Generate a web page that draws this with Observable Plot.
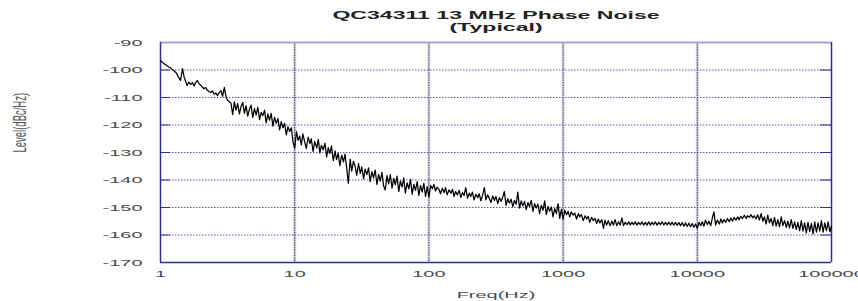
<!DOCTYPE html>
<html>
<head>
<meta charset="utf-8">
<script src="https://cdn.jsdelivr.net/npm/d3@7"></script>
<script src="https://cdn.jsdelivr.net/npm/@observablehq/plot@0.6"></script>
<style>
  html, body { margin: 0; padding: 0; background: #ffffff; }
  #chart { width: 858px; height: 301px; overflow: hidden; }
</style>
</head>
<body>
<div id="chart"></div>
<script>
// ---- Data (frequency Hz, level dBc/Hz) ----
const decade1 = [
  [1,-96.5],[1.03,-97.2],[1.06,-97.6],[1.09,-98.1],[1.12,-98.4],[1.15,-98.9],[1.19,-99.2],[1.22,-99.8],
  [1.26,-100.3],[1.3,-100.9],[1.33,-101.6],[1.37,-102.8],[1.41,-103.8],[1.46,-99.5],[1.5,-102.6],[1.54,-104.2],
  [1.58,-105.6],[1.63,-104.4],[1.68,-105.2],[1.73,-104.6],[1.78,-105.8],[1.83,-104.5],[1.88,-103.8],[1.94,-105],
  [2,-105.6],[2.05,-106.2],[2.11,-106.8],[2.17,-106.4],[2.24,-107.4],[2.31,-107.9],[2.37,-108.2],[2.44,-107.6],
  [2.51,-108.8],[2.59,-108.4],[2.66,-109.3],[2.74,-108.2],[2.82,-107.5],[2.9,-109.6],[2.99,-106.3],[3.08,-109.8],
  [3.16,-111],[3.26,-111.6],[3.35,-112],[3.45,-116.2],[3.55,-111.6],[3.65,-114.6],[3.76,-112.2],[3.87,-116],
  [3.98,-113.4],[4.1,-111.8],[4.22,-115.8],[4.34,-113],[4.47,-116.8],[4.6,-114.2],[4.73,-112.8],[4.87,-117.2],
  [5.01,-114],[5.16,-116.4],[5.31,-113.6],[5.47,-118],[5.62,-115.4],[5.79,-116.6],[5.96,-114.6],[6.13,-119.2],
  [6.31,-116],[6.49,-118.2],[6.68,-115.8],[6.88,-120.4],[7.08,-117.2],[7.29,-119.4],[7.5,-117.6],[7.72,-121.8],
  [7.94,-118.8],[8.18,-121],[8.41,-119.4],[8.66,-123.6],[8.91,-120.6],[9.17,-122.4],[9.44,-121],[9.72,-126.2]
];
const decade2 = [
  [10,-128.4],[10.3,-122.4],[10.6,-125.6],[10.9,-124],[11.2,-127.2],[11.5,-123.2],[11.9,-126.4],[12.2,-128.6],
  [12.6,-124.4],[13,-126.8],[13.3,-125],[13.7,-129.6],[14.1,-126],[14.6,-128.4],[15,-125.2],[15.4,-130.2],
  [15.8,-127.4],[16.3,-129],[16.8,-126.6],[17.3,-131.6],[17.8,-128.2],[18.3,-130.4],[18.8,-127.6],[19.4,-133],
  [20,-129.4],[20.5,-132.6],[21.1,-130.2],[21.7,-134.8],[22.4,-131],[23.1,-133.4],[23.7,-130.6],[24.4,-135.6],
  [25.1,-141.2],[25.9,-132.4],[26.6,-136.8],[27.4,-133.2],[28.2,-135],[29,-138.2],[29.9,-134],[30.8,-137.6],
  [31.6,-135.2],[32.6,-139.6],[33.5,-136],[34.5,-138],[35.5,-135.6],[36.5,-140.6],[37.6,-137],[38.7,-139.2],
  [39.8,-136.4],[41,-141.6],[42.2,-138],[43.4,-140.4],[44.7,-137.2],[46,-142.2],[47.3,-143.6],[48.7,-138.4],
  [50.1,-141.4],[51.6,-138],[53.1,-143],[54.7,-139.4],[56.2,-141.8],[57.9,-138.6],[59.6,-144.2],[61.3,-140.4],
  [63.1,-142.6],[64.9,-139.2],[66.8,-144.8],[68.8,-141],[70.8,-143.2],[72.9,-139.8],[75,-145.2],[77.2,-141.6],
  [79.4,-143.8],[81.8,-140.6],[84.1,-145.6],[86.6,-142],[89.1,-144.4],[91.7,-141.2],[94.4,-146],[97.2,-142.4]
];
const decade3 = [
  [100,-146.2],[103,-142],[106,-143.2],[109,-141.6],[112,-144],[115,-142.6],[119,-143.4],[122,-145],
  [126,-143],[130,-144.6],[133,-142.8],[137,-145.4],[141,-143.6],[146,-144.8],[150,-143.4],[154,-146],
  [158,-144.2],[163,-145.4],[168,-143.8],[173,-146.4],[178,-144.6],[183,-145.6],[188,-142.8],[194,-146.6],
  [200,-144.8],[205,-146],[211,-144.4],[217,-147.2],[224,-145.2],[231,-146.4],[237,-145],[244,-147.6],
  [251,-145.6],[259,-142.8],[266,-147.2],[274,-145.4],[282,-146.6],[290,-148.2],[299,-145.8],[308,-147.4],
  [316,-146],[326,-148.6],[335,-146.4],[345,-147.8],[355,-146.2],[365,-144.2],[376,-149.2],[387,-146.8],
  [398,-148.4],[410,-147],[422,-149.8],[434,-147.4],[447,-148.8],[460,-144.4],[473,-150.2],[487,-147.6],
  [501,-149.4],[516,-147.8],[531,-150.8],[547,-148.2],[562,-149.6],[579,-147.4],[596,-151.4],[613,-148.6],
  [631,-150.2],[649,-148.8],[668,-152.2],[688,-149.2],[708,-151],[729,-147.6],[750,-152.6],[772,-149.6],
  [794,-151.4],[818,-149.8],[841,-153.4],[866,-150.4],[891,-152.2],[917,-148.6],[944,-154],[972,-150.6]
];
const decade4 = [
  [1000,-154.2],[1030,-151],[1060,-152.6],[1090,-151.4],[1120,-153.4],[1150,-151.6],[1190,-152.8],[1220,-152],
  [1260,-154.2],[1300,-152.2],[1330,-153.4],[1370,-152.6],[1410,-154.8],[1460,-153],[1500,-154.2],[1540,-153.2],
  [1580,-155.4],[1630,-153.6],[1680,-154.8],[1730,-154],[1780,-155.8],[1830,-154.2],[1880,-155.6],[1940,-154.4],
  [2000,-157.6],[2050,-154.6],[2110,-156.4],[2170,-154.8],[2240,-156.6],[2310,-155],[2370,-156.4],[2440,-154.4],
  [2510,-156.6],[2590,-155.2],[2660,-156.4],[2740,-153.8],[2820,-156.6],[2900,-155.4],[2990,-156.2],[3080,-155.2],
  [3160,-156.4],[3260,-155.4],[3350,-156.2],[3450,-155.2],[3550,-156.4],[3650,-155.4],[3760,-156.2],[3870,-155.2],
  [3980,-156.4],[4100,-155.4],[4220,-156.4],[4340,-155.2],[4470,-156.4],[4600,-155.4],[4730,-156.2],[4870,-155.2],
  [5010,-156.4],[5160,-155.4],[5310,-156.2],[5470,-155.2],[5620,-156.4],[5790,-155.4],[5960,-156.3],[6130,-155.3],
  [6310,-156.4],[6490,-155.4],[6680,-156.4],[6880,-155.4],[7080,-156.5],[7290,-155.5],[7500,-156.6],[7720,-155.5],
  [7940,-156.8],[8180,-155.6],[8410,-156.9],[8660,-155.7],[8910,-157],[9170,-155.8],[9440,-157.2],[9720,-156]
];
const decade5 = [
  [10000,-157.6],[10300,-155.4],[10600,-156.6],[10900,-155.2],[11200,-156.8],[11500,-154.6],[11900,-156.2],[12200,-155],
  [12600,-156.6],[13000,-153.4],[13300,-151.6],[13700,-156.4],[14100,-154.6],[14600,-156],[15000,-154.2],[15400,-155.6],
  [15800,-154.4],[16300,-155.4],[16800,-154],[17300,-155.2],[17800,-153.8],[18300,-155],[18800,-153.6],[19400,-154.6],
  [20000,-153.4],[20500,-154.4],[21100,-153.2],[21700,-154],[22400,-152.8],[23100,-154],[23700,-153],[24400,-153.6],
  [25100,-152.6],[25900,-153.8],[26600,-153],[27400,-154.2],[28200,-152.6],[29000,-154.6],[29900,-152.2],[30800,-155],
  [31600,-153.4],[32600,-156],[33500,-152.8],[34500,-155.6],[35500,-154],[36500,-156.6],[37600,-153.6],[38700,-156.8],
  [39800,-154.4],[41000,-157],[42200,-153.4],[43400,-156.6],[44700,-154.8],[46000,-157.2],[47300,-155],[48700,-157.4],
  [50100,-154.4],[51600,-157.6],[53100,-155.2],[54700,-158],[56200,-155.4],[57900,-158.4],[59600,-154.8],[61300,-158.6],
  [63100,-155.6],[64900,-159.2],[66800,-155.4],[68800,-158.8],[70800,-155.8],[72900,-159.6],[75000,-155.2],[77200,-159],
  [79400,-155.6],[81800,-158.6],[84100,-154.8],[86600,-159],[89100,-155.6],[91700,-158.4],[94400,-155.2],[97200,-158.8],
  [100000,-156.8]
];
const xTicks = [1, 10, 100, 1000, 10000, 100000];
const xGrid = [10, 100, 1000, 10000];
const yTicks = [-170, -160, -150, -140, -130, -120, -110, -100, -90];
const yGrid = [-160, -150, -140, -130, -120, -110, -100];
const titleLine1 = "QC34311 13 MHz Phase Noise";
const titleLine2 = "(Typical)";
const xLabel = "Freq(Hz)";
const yLabel = "Level(dBc/Hz)";

const trace = [...decade1, ...decade2, ...decade3, ...decade4, ...decade5];

const navy = "#2e2e8c";
const font = "Liberation Sans, Arial, Helvetica, sans-serif";

const chart = Plot.plot({
  width: 858,
  height: 301,
  marginLeft: 160,
  marginRight: 27,
  marginTop: 42,
  marginBottom: 39,
  style: { fontFamily: font, background: "#ffffff", overflow: "hidden" },
  x: { type: "log", domain: [1, 100000] },
  y: { domain: [-170, -90] },
  marks: [
    // vertical decade gridlines (gray halo + dotted navy)
    Plot.ruleX(xGrid, { stroke: "#dadada", strokeWidth: 3 }),
    Plot.ruleX(xGrid, { stroke: "#3a3a8a", strokeWidth: 1, strokeDasharray: "1.5,1" }),
    // horizontal dotted gridlines
    Plot.ruleY(yGrid, { stroke: "#5656b0", strokeWidth: 1, strokeDasharray: "1.5,1.5" }),
    // inner ticks left and right
    Plot.axisY(yGrid, { anchor: "left", tickSize: -10, tickFormat: () => "", stroke: navy, label: null }),
    Plot.axisY(yGrid, { anchor: "right", tickSize: -12, tickFormat: () => "", stroke: navy, label: null }),
    // tick labels
    Plot.axisY(yTicks, { anchor: "left", tickSize: 0, tickPadding: 18, tickFormat: d => String(d),
      fontSize: 9.5, fill: "#4a4a4a", label: null }),
    Plot.axisX(xTicks, { anchor: "bottom", tickSize: 0, tickPadding: 8, tickFormat: d => String(d),
      fontSize: 9.5, fill: "#4a4a4a", label: null }),
    // frame
    Plot.ruleY([-90], { stroke: "#a4a4d4", strokeWidth: 2 }),
    Plot.ruleX([100000], { stroke: navy, strokeWidth: 1.5 }),
    Plot.ruleX([1], { stroke: navy, strokeWidth: 1.5 }),
    Plot.ruleY([-170], { stroke: navy, strokeWidth: 1.5 }),
    // the noise trace
    Plot.line(trace, { x: d => d[0], y: d => d[1], stroke: "#000000", strokeWidth: 1.25 }),
    // title, axis labels
    Plot.text([titleLine1], { frameAnchor: "top", lineAnchor: "middle", dy: -27, fontSize: 11, fontWeight: "bold", fill: "#222" }),
    Plot.text([titleLine2], { frameAnchor: "top", lineAnchor: "middle", dy: -15, fontSize: 11, fontWeight: "bold", fill: "#222" }),
    Plot.text([xLabel], { frameAnchor: "bottom", lineAnchor: "middle", dy: 32, fontSize: 9.5, fill: "#4a4a4a" }),
    Plot.text([yLabel], { frameAnchor: "left", dx: -141, rotate: -90, fontSize: 9.5, fill: "#555" })
  ]
});

// The reference image is horizontally stretched about 2x: stretch glyphs likewise.
d3.select(chart).selectAll("text").each(function () {
  const t = this.getAttribute("transform");
  if (t && t.includes("rotate")) {
    this.setAttribute("transform", t + " scale(1,2)");
  } else if (t) {
    this.setAttribute("transform", t + " scale(2.1,1)");
  }
});

document.getElementById("chart").appendChild(chart);
</script>
</body>
</html>
